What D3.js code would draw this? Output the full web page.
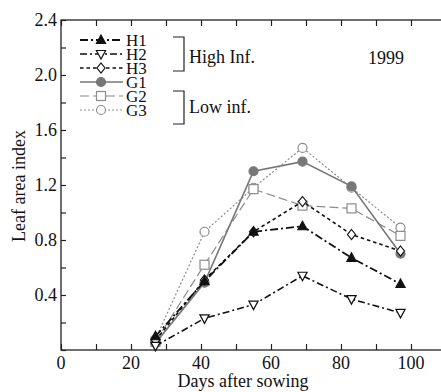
<!DOCTYPE html>
<html>
<head>
<meta charset="utf-8">
<script src="https://cdn.jsdelivr.net/npm/d3@7"></script>
<style>
  body { margin: 0; background: #fff; }
  svg { display: block; font-family: "Liberation Serif", "DejaVu Serif", serif; }
</style>
</head>
<body>
<svg id="chart" width="441" height="392"></svg>
<script>
// Sampling days
const days = [27, 41, 55, 69, 83, 97]

// Leaf area index per treatment
const h1 = [0.10, 0.50, 0.86, 0.90, 0.67, 0.48]
const h2 = [0.03, 0.23, 0.33, 0.54, 0.37, 0.27]
const h3 = [0.07, 0.51, 0.86, 1.08, 0.84, 0.72]
const g1 = [0.05, 0.49, 1.30, 1.37, 1.19, 0.70]
const g2 = [0.06, 0.62, 1.17, 1.05, 1.03, 0.83]
const g3 = [0.08, 0.86, 1.18, 1.47, 1.18, 0.89]

const seriesNames = ["H1", "H2", "H3", "G1", "G2", "G3"]
const xTicks = [0, 20, 40, 60, 80, 100]
const yTicks = [0.4, 0.8, 1.2, 1.6, 2.0, 2.4]

const margins = { top: 20, left: 61 }
const dimensions = { width: 385, height: 330 }

let svg = d3.select("#chart")

let x = d3.scaleLinear().domain([0, 110]).range([margins.left, margins.left + dimensions.width])
let y = d3.scaleLinear().domain([0, 2.4]).range([margins.top + dimensions.height, margins.top])

const styles = {
  H1: { color: "#111", dash: "8,3,2,3", marker: "triUp", fill: "#111", width: 1.8 },
  H2: { color: "#111", dash: "7,3,2,3", marker: "triDown", fill: "#fff", width: 1.6 },
  H3: { color: "#111", dash: "3.5,3", marker: "diamond", fill: "#fff", width: 1.6 },
  G1: { color: "#777", dash: null, marker: "circle", fill: "#777", width: 1.6 },
  G2: { color: "#8c8c8c", dash: "9,4", marker: "square", fill: "#fff", width: 1.2 },
  G3: { color: "#8c8c8c", dash: "2,2", marker: "circle", fill: "#fff", width: 1.2 }
}

const values = { H1: h1, H2: h2, H3: h3, G1: g1, G2: g2, G3: g3 }

// Frame
svg.append("rect")
  .attr("x", x(0)).attr("y", y(2.4))
  .attr("width", x(110) - x(0)).attr("height", y(0) - y(2.4))
  .attr("fill", "none").attr("stroke", "#222").attr("stroke-width", 1.3)

// Ticks (inward, on all sides)
let minorX = d3.range(0, 111, 10)
let minorY = d3.range(0, 2.41, 0.2)

svg.append("g").attr("transform", "translate(0," + y(0) + ")")
  .call(d3.axisBottom(x).tickValues(minorX).tickSize(-6).tickFormat(""))
svg.append("g").attr("transform", "translate(0," + y(2.4) + ")")
  .call(d3.axisTop(x).tickValues(minorX).tickSize(-6).tickFormat(""))
svg.append("g").attr("transform", "translate(" + x(0) + ",0)")
  .call(d3.axisLeft(y).tickValues(minorY).tickSize(-5).tickFormat(""))
svg.append("g").attr("transform", "translate(" + x(110) + ",0)")
  .call(d3.axisRight(y).tickValues(minorY).tickSize(-5).tickFormat(""))

svg.selectAll(".domain").remove()
svg.selectAll(".tick line").attr("stroke", "#222").attr("stroke-width", 1.2)

// Tick labels
svg.append("g").selectAll("text").data(xTicks).join("text")
  .attr("x", d => x(d)).attr("y", y(0) + 19)
  .attr("text-anchor", "middle").attr("font-size", 18).attr("fill", "#111")
  .text(d => d)

svg.append("g").selectAll("text").data(yTicks).join("text")
  .attr("x", x(0) - 4).attr("y", d => y(d) + 6)
  .attr("text-anchor", "end").attr("font-size", 18).attr("fill", "#111")
  .text(d => d3.format(".1f")(d))

// Axis titles
svg.append("text").attr("x", 243).attr("y", 387)
  .attr("text-anchor", "middle").attr("font-size", 18).attr("fill", "#111")
  .text("Days after sowing")

svg.append("text").attr("transform", "translate(25," + 186 + ") rotate(-90)")
  .attr("text-anchor", "middle").attr("font-size", 18).attr("fill", "#111")
  .text("Leaf area index")

// Marker drawing
function drawMarker(g, type, cx, cy, s) {
  let st = styles[s]
  let el
  if (type === "circle") {
    el = g.append("circle").attr("cx", cx).attr("cy", cy).attr("r", 4.5)
  } else if (type === "square") {
    el = g.append("rect").attr("x", cx - 4.5).attr("y", cy - 4.5).attr("width", 9).attr("height", 9)
  } else if (type === "triUp") {
    el = g.append("path").attr("d", `M${cx},${cy - 5}L${cx + 4.6},${cy + 3.5}L${cx - 4.6},${cy + 3.5}Z`)
  } else if (type === "triDown") {
    el = g.append("path").attr("d", `M${cx},${cy + 5}L${cx + 4.6},${cy - 3.5}L${cx - 4.6},${cy - 3.5}Z`)
  } else {
    el = g.append("path").attr("d", `M${cx},${cy - 5}L${cx + 4},${cy}L${cx},${cy + 5}L${cx - 4},${cy}Z`)
  }
  el.attr("fill", st.fill).attr("stroke", st.color).attr("stroke-width", 1.2)
}

let line = d3.line().x(d => x(d[0])).y(d => y(d[1]))

let plot = svg.append("g")
seriesNames.slice().reverse().forEach(s => {
  let st = styles[s]
  let pts = days.map((d, i) => [d, values[s][i]])
  plot.append("path").datum(pts)
    .attr("d", line).attr("fill", "none")
    .attr("stroke", st.color).attr("stroke-width", st.width)
    .attr("stroke-dasharray", st.dash)
  pts.forEach(p => drawMarker(plot, st.marker, x(p[0]), y(p[1]), s))
})

// Legend (rows are tightly packed, as in the original)
let legend = svg.append("g")
let rowY = [40, 54, 68, 82, 96, 110]
seriesNames.forEach((s, i) => {
  let st = styles[s]
  legend.append("line")
    .attr("x1", 80).attr("x2", 123).attr("y1", rowY[i]).attr("y2", rowY[i])
    .attr("stroke", st.color).attr("stroke-width", st.width)
    .attr("stroke-dasharray", st.dash)
  drawMarker(legend, st.marker, 101, rowY[i], s)
  legend.append("text").attr("x", 126).attr("y", rowY[i] + 6)
    .attr("font-size", 17).attr("fill", "#111").text(s)
})

// Group brackets
function bracket(y0, y1, label, ly) {
  legend.append("path")
    .attr("d", `M173,${y0}H184V${y1}H173`)
    .attr("fill", "none").attr("stroke", "#222").attr("stroke-width", 1.2)
  legend.append("text").attr("x", 189).attr("y", ly)
    .attr("font-size", 18).attr("fill", "#111").text(label)
}
bracket(37, 71, "High Inf.", 63)
bracket(91, 124, "Low inf.", 113)

svg.append("text").attr("x", 386).attr("y", 64)
  .attr("text-anchor", "middle").attr("font-size", 18).attr("fill", "#111")
  .text("1999")
</script>
</body>
</html>
